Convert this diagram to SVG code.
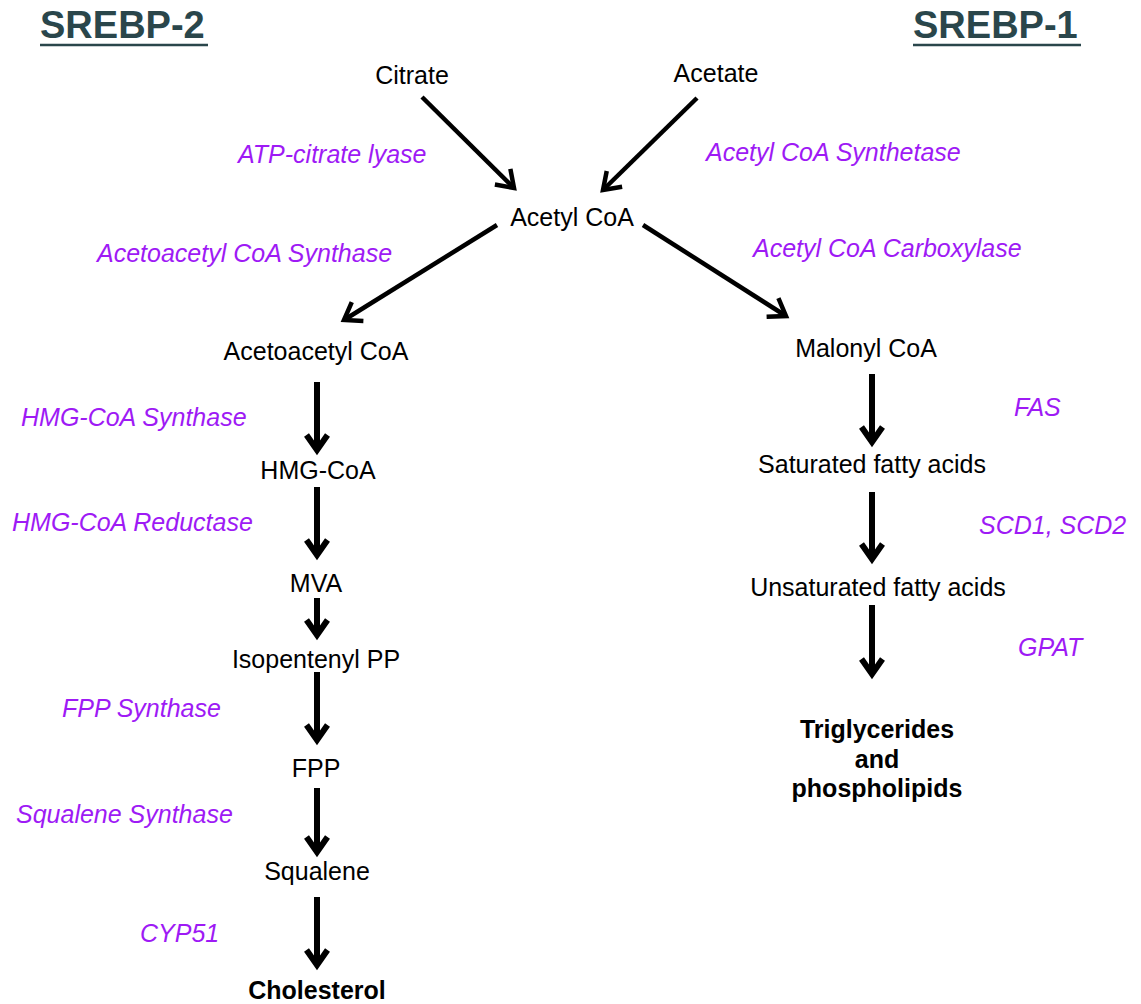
<svg xmlns="http://www.w3.org/2000/svg" width="1141" height="1004" viewBox="0 0 1141 1004">
<style>
  .node { font-family: "Liberation Sans", Arial, sans-serif; font-size: 25px; fill: #000; text-anchor: middle; }
  .bold { font-weight: bold; }
  .enz { font-family: "Liberation Sans", Arial, sans-serif; font-size: 25px; font-style: italic; fill: #9E1AF5; }
  .title { font-family: "Liberation Sans", Arial, sans-serif; font-size: 38px; font-weight: bold; fill: #2a464b; }
  .uline { stroke: #2a464b; stroke-width: 2.5; }
  .v { stroke: #000; stroke-width: 6; fill: none; marker-end: url(#hv); }
  .d { stroke: #000; stroke-width: 4.5; fill: none; marker-end: url(#hd); }
</style>
<defs>
  <marker id="hv" markerUnits="userSpaceOnUse" viewBox="-20 -16 26 32" refX="0" refY="0" markerWidth="26" markerHeight="32" orient="auto" overflow="visible">
    <path d="M-15,-10.5 L0,0 L-15,10.5" fill="none" stroke="#000" stroke-width="6" stroke-linejoin="miter"/>
  </marker>
  <marker id="hd" markerUnits="userSpaceOnUse" viewBox="-20 -16 26 32" refX="0" refY="0" markerWidth="26" markerHeight="32" orient="auto" overflow="visible">
    <path d="M-16,-11 L0,0 L-16,11" fill="none" stroke="#000" stroke-width="4.5" stroke-linejoin="miter"/>
  </marker>
</defs>
<rect width="1141" height="1004" fill="#fff"/>

<g id="title-srebp2">
  <text class="title" x="40" y="38">SREBP-2</text>
  <line class="uline" x1="40" y1="45" x2="208" y2="45"/>
</g>
<g id="title-srebp1">
  <text class="title" x="913" y="38">SREBP-1</text>
  <line class="uline" x1="913" y1="45" x2="1081" y2="45"/>
</g>

<g id="connectors">
  <line class="d" x1="422" y1="97" x2="514" y2="188"/>
  <line class="d" x1="697" y1="98" x2="603" y2="190"/>
  <line class="d" x1="497" y1="225" x2="344" y2="320"/>
  <line class="d" x1="643" y1="225" x2="786" y2="316"/>
  <line class="v" x1="317" y1="382" x2="317" y2="450"/>
  <line class="v" x1="317" y1="487" x2="317" y2="555"/>
  <line class="v" x1="317" y1="598" x2="317" y2="635"/>
  <line class="v" x1="317" y1="672" x2="317" y2="740"/>
  <line class="v" x1="317" y1="788" x2="317" y2="852"/>
  <line class="v" x1="317" y1="897" x2="317" y2="965"/>
  <line class="v" x1="872" y1="374" x2="872" y2="442"/>
  <line class="v" x1="872" y1="492" x2="872" y2="559"/>
  <line class="v" x1="872" y1="605" x2="872" y2="674"/>
</g>

<g id="citrate"><text class="node" x="412" y="84">Citrate</text></g>
<g id="acetate"><text class="node" x="716" y="82">Acetate</text></g>
<g id="acetyl-coa"><text class="node" x="572" y="226">Acetyl CoA</text></g>
<g id="acetoacetyl-coa"><text class="node" x="316" y="360">Acetoacetyl CoA</text></g>
<g id="malonyl-coa"><text class="node" x="866" y="357">Malonyl CoA</text></g>
<g id="hmg-coa"><text class="node" x="318" y="479">HMG-CoA</text></g>
<g id="saturated"><text class="node" x="872" y="473">Saturated fatty acids</text></g>
<g id="mva"><text class="node" x="316" y="592">MVA</text></g>
<g id="unsaturated"><text class="node" x="878" y="596">Unsaturated fatty acids</text></g>
<g id="isopentenyl-pp"><text class="node" x="316" y="668">Isopentenyl PP</text></g>
<g id="fpp"><text class="node" x="316" y="777">FPP</text></g>
<g id="squalene"><text class="node" x="317" y="880">Squalene</text></g>
<g id="cholesterol"><text class="node bold" x="317" y="999">Cholesterol</text></g>
<g id="triglycerides">
  <text class="node bold" x="877" y="738">Triglycerides</text>
  <text class="node bold" x="877" y="768">and</text>
  <text class="node bold" x="877" y="797">phospholipids</text>
</g>

<g id="enzymes">
  <text class="enz" x="238" y="163">ATP-citrate lyase</text>
  <text class="enz" x="706" y="161">Acetyl CoA Synthetase</text>
  <text class="enz" x="97" y="262">Acetoacetyl CoA Synthase</text>
  <text class="enz" x="753" y="257">Acetyl CoA Carboxylase</text>
  <text class="enz" x="21" y="426">HMG-CoA Synthase</text>
  <text class="enz" x="12" y="531">HMG-CoA Reductase</text>
  <text class="enz" x="1014" y="416">FAS</text>
  <text class="enz" x="979" y="534">SCD1, SCD2</text>
  <text class="enz" x="1018" y="656">GPAT</text>
  <text class="enz" x="62" y="717">FPP Synthase</text>
  <text class="enz" x="16" y="823">Squalene Synthase</text>
  <text class="enz" x="140" y="942">CYP51</text>
</g>
</svg>
